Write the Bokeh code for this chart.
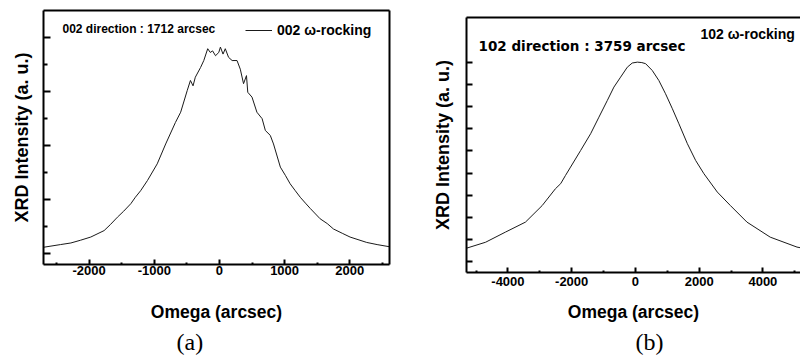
from bokeh.embed import file_html
from bokeh.layouts import row
from bokeh.models import FixedTicker, Label, Legend, LegendItem, LinearAxis, Range1d
from bokeh.plotting import figure
from bokeh.resources import INLINE

FONT = "Liberation Sans"

# (a) 002 omega-rocking curve (arcsec, arbitrary units)
omega_a = [-2700, -2440, -2280, -2135, -1975, -1770, -1675, -1565, -1470, -1360,
           -1290, -1210, -1105, -955, -825, -675, -595, -495, -445, -405,
           -370, -290, -240, -180, -140, -105, -60, -10, 15, 55,
           90, 140, 195, 270, 320, 370, 415, 435, 500, 575,
           655, 705, 780, 830, 935, 1015, 1085, 1165, 1240, 1320,
           1395, 1545, 1655, 1750, 1885, 2005, 2260, 2420, 2610]
intensity_a = [0.11, 0.16, 0.19, 0.24, 0.30, 0.42, 0.53, 0.67, 0.78, 0.92,
               1.04, 1.16, 1.35, 1.66, 2.03, 2.43, 2.62, 3.02, 3.21, 3.11,
               3.27, 3.45, 3.58, 3.80, 3.73, 3.76, 3.67, 3.73, 3.83, 3.70,
               3.80, 3.64, 3.58, 3.58, 3.42, 3.15, 3.30, 2.99, 2.90, 2.62,
               2.50, 2.28, 2.19, 2.03, 1.60, 1.44, 1.29, 1.16, 1.04, 0.93,
               0.83, 0.64, 0.55, 0.45, 0.37, 0.30, 0.20, 0.16, 0.12]

# (b) 102 omega-rocking curve
omega_b = [-5300, -4700, -4075, -3450, -2925, -2510, -2345, -2195, -2035, -1720,
           -1405, -1145, -880, -675, -465, -255, -100, 60, 200, 320,
           530, 735, 945, 1160, 1365, 1630, 1890, 2150, 2570, 2980,
           3500, 4230, 5070, 5180]
intensity_b = [0.60, 0.87, 1.33, 1.78, 2.53, 3.29, 3.52, 3.89, 4.27, 5.02,
               5.78, 6.53, 7.29, 7.89, 8.34, 8.79, 8.98, 9.02, 9.00, 8.95,
               8.64, 8.19, 7.59, 6.91, 6.23, 5.33, 4.57, 3.97, 3.14, 2.53,
               1.78, 1.10, 0.65, 0.62]

xticks_a = [-2000, -1000, 0, 1000, 2000]
xtick_labels_a = ["-2000", "-1000", "0", "1000", "2000"]
xminor_a = [-2500, -1500, -500, 500, 1500, 2500]
yticks_a = [0, 1, 2, 3, 4]
yminor_a = [0.5, 1.5, 2.5, 3.5]

xticks_b = [-4000, -2000, 0, 2000, 4000]
xtick_labels_b = ["-4000", "-2000", "0", "2000", "4000"]
xminor_b = [-5000, -3000, -1000, 1000, 3000, 5000]
yticks_b = [0, 1, 2, 3, 4, 5, 6, 7, 8, 9]

X_TITLE = "Omega (arcsec)"
Y_TITLE = "XRD Intensity (a. u.)"


def border_axis(p, side):
    """Plain frame edge: an axis line without ticks or labels."""
    ax = LinearAxis(ticker=FixedTicker(ticks=[]), axis_line_width=2,
                    major_label_text_font_size="0px", major_label_standoff=0)
    p.add_layout(ax, side)


def make_panel(width, borders, x_range, y_range, xticks, xlabels, xminor,
               yticks, yminor, ymajor_len, yminor_len, tick_standoff,
               xlabel_standoff, ylabel_standoff, caption, caption_offset):
    left, right, top, bottom = borders
    p = figure(width=width, height=360, output_backend="svg", toolbar_location=None,
               x_range=Range1d(*x_range), y_range=Range1d(*y_range),
               min_border_left=left, min_border_right=right,
               min_border_top=top, min_border_bottom=bottom,
               background_fill_color="white", border_fill_color="white",
               title=caption, title_location="below")
    p.frame_align = False
    p.grid.visible = False
    p.outline_line_color = None

    # panel caption "(a)" / "(b)" under the axis title
    p.title.text_font = "Liberation Serif"
    p.title.text_font_size = "24px"
    p.title.text_font_style = "normal"
    p.title.text_color = "black"
    p.title.align = "left"
    p.title.offset = caption_offset
    p.title.standoff = 4

    xa = p.xaxis[0]
    xa.ticker = FixedTicker(ticks=xticks, minor_ticks=xminor)
    xa.major_label_overrides = {t: s for t, s in zip(xticks, xlabels)}
    xa.major_tick_in, xa.major_tick_out = 5, 0
    xa.minor_tick_in, xa.minor_tick_out = 2, 0
    xa.major_tick_line_width = 2
    xa.minor_tick_line_width = 2
    xa.axis_line_width = 2
    xa.major_label_standoff = tick_standoff
    xa.major_label_text_font = FONT
    xa.major_label_text_font_style = "bold"
    xa.major_label_text_font_size = "13px"
    xa.major_label_text_color = "black"
    xa.axis_label = X_TITLE
    xa.axis_label_text_font = FONT
    xa.axis_label_text_font_style = "bold"
    xa.axis_label_text_font_size = "17.5px"
    xa.axis_label_text_color = "black"
    xa.axis_label_standoff = xlabel_standoff

    ya = p.yaxis[0]
    ya.ticker = FixedTicker(ticks=yticks, minor_ticks=yminor)
    ya.major_label_overrides = {t: "" for t in yticks}
    ya.major_label_standoff = 0
    ya.major_tick_in, ya.major_tick_out = ymajor_len, 0
    ya.minor_tick_in, ya.minor_tick_out = yminor_len, 0
    ya.major_tick_line_width = 2
    ya.minor_tick_line_width = 2
    ya.axis_line_width = 2
    ya.axis_label = Y_TITLE
    ya.axis_label_text_font = FONT
    ya.axis_label_text_font_style = "bold"
    ya.axis_label_text_font_size = "18px"
    ya.axis_label_text_color = "black"
    ya.axis_label_standoff = ylabel_standoff
    return p


def text_label(x, y, text, size, font=FONT):
    return Label(x=x, y=y, x_units="screen", y_units="screen", text=text,
                 text_font=font, text_font_size=size, text_font_style="bold",
                 text_color="black", text_align="left", text_baseline="middle")


# ---- panel (a)
pa = make_panel(400, (43, 11, 10, 96), (-2700, 2610), (-0.21, 4.51),
                xticks_a, xtick_labels_a, xminor_a, yticks_a, yminor_a, 7, 4,
                1, 24, 12, "(a)", 133)
border_axis(pa, "above")
border_axis(pa, "right")
line_a = pa.line(omega_a, intensity_a, line_color="#1a1a1a", line_width=1)
legend = Legend(items=[LegendItem(label="002 \u03c9-rocking", renderers=[line_a])],
                location=(202, 224), margin=0, padding=11, spacing=0,
                glyph_width=27, glyph_height=20, label_standoff=5,
                label_text_font=FONT, label_text_font_style="bold",
                label_text_font_size="14px", label_text_color="black",
                background_fill_alpha=0, border_line_color=None)
pa.add_layout(legend)
pa.add_layout(text_label(19, 236, "002 direction : 1712 arcsec", "12px"))

# ---- panel (b)
pb = make_panel(400, (66, 0, 17, 88), (-5300, 5180), (-0.5, 11.04),
                xticks_b, xtick_labels_b, xminor_b, yticks_b, [], 6, 0,
                4, 13, 14, "(b)", 169)
border_axis(pb, "above")
pb.line(omega_b, intensity_b, line_color="#1a1a1a", line_width=1)
pb.add_layout(text_label(12, 227, "102 direction : 3759 arcsec", "13.5px",
                         font="DejaVu Sans"))
pb.add_layout(text_label(234, 239, "102 \u03c9-rocking", "14px"))

layout = row(pa, pb)
open("out.html", "w").write(file_html(layout, INLINE))
